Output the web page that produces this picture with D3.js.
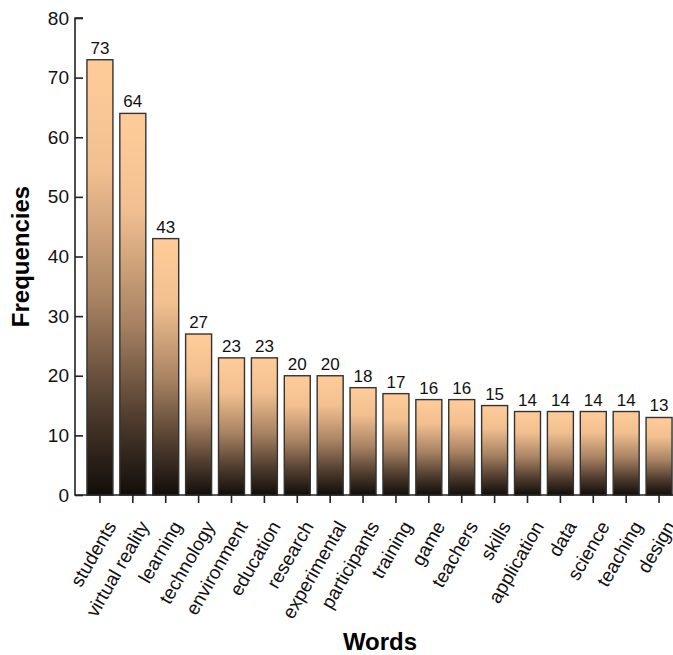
<!DOCTYPE html>
<html>
<head>
<meta charset="utf-8">
<script src="https://cdn.jsdelivr.net/npm/d3@7"></script>
<style>
  html, body { margin: 0; padding: 0; background: #fff; }
  svg { display: block; font-family: "Liberation Sans", Arial, sans-serif; }
</style>
</head>
<body>
<svg id="chart" width="673" height="655"></svg>
<script>
const words = ["students", "virtual reality", "learning", "technology", "environment", "education",
  "research", "experimental", "participants", "training", "game", "teachers", "skills",
  "application", "data", "science", "teaching", "design"];
const frequencies = [73, 64, 43, 27, 23, 23, 20, 20, 18, 17, 16, 16, 15, 14, 14, 14, 14, 13];
const yTicks = [0, 10, 20, 30, 40, 50, 60, 70, 80];

const svg = d3.select("#chart");
const x0 = 83, x1 = 676, yTop = 18, yBot = 495;

const defs = svg.append("defs");
const grad = defs.append("linearGradient")
  .attr("id", "barGrad").attr("x1", 0).attr("y1", 0).attr("x2", 0).attr("y2", 1);
grad.append("stop").attr("offset", "0%").attr("stop-color", "#FFCC99");
grad.append("stop").attr("offset", "25%").attr("stop-color", "#F2C090");
grad.append("stop").attr("offset", "55%").attr("stop-color", "#A88262");
grad.append("stop").attr("offset", "80%").attr("stop-color", "#4F3C2E");
grad.append("stop").attr("offset", "100%").attr("stop-color", "#120D09");

const x = d3.scaleBand().domain(words).range([x0, x1]).paddingInner(0.21).paddingOuter(0.12);
const y = d3.scaleLinear().domain([0, 80]).range([yBot, yTop]);

// bars
svg.append("g").selectAll("rect").data(words).join("rect")
  .attr("x", d => x(d))
  .attr("y", (d, i) => y(frequencies[i]))
  .attr("width", x.bandwidth())
  .attr("height", (d, i) => y(0) - y(frequencies[i]))
  .attr("fill", "url(#barGrad)")
  .attr("stroke", "#333")
  .attr("stroke-width", 1.4);

// value labels
svg.append("g").selectAll("text").data(words).join("text")
  .attr("x", d => x(d) + x.bandwidth() / 2)
  .attr("y", (d, i) => y(frequencies[i]) - 6)
  .attr("text-anchor", "middle")
  .attr("font-size", 17)
  .attr("fill", "#111")
  .text((d, i) => frequencies[i]);

// y axis
const yAxis = svg.append("g").attr("transform", `translate(${x0},0)`)
  .call(d3.axisLeft(y).tickValues(yTicks).tickSize(8).tickPadding(6));
yAxis.selectAll("text").attr("font-size", 19).attr("fill", "#111")
  .attr("font-family", "Liberation Sans, Arial, sans-serif");
yAxis.selectAll("line").attr("stroke", "#222").attr("stroke-width", 1.6);
yAxis.select(".domain").attr("stroke", "#222").attr("stroke-width", 1.6)
  .attr("d", `M0,${yTop}H-8V${yBot}H0`);

// x axis
const xAxis = svg.append("g").attr("transform", `translate(0,${yBot})`)
  .call(d3.axisBottom(x).tickSize(8).tickSizeOuter(0).tickPadding(10));
xAxis.select(".domain").attr("stroke", "#222").attr("stroke-width", 1.6)
  .attr("d", `M${x0},0H673`);
xAxis.selectAll("line").attr("stroke", "#222").attr("stroke-width", 1.6);
xAxis.selectAll("text")
  .attr("font-size", 19).attr("fill", "#111")
  .attr("font-family", "Liberation Sans, Arial, sans-serif")
  .attr("text-anchor", "end")
  .attr("dy", null)
  .attr("y", 0)
  .attr("transform", "translate(17,31) rotate(-60)");

// axis titles
svg.append("text")
  .attr("transform", `translate(29,${(yTop + yBot) / 2}) rotate(-90)`)
  .attr("text-anchor", "middle")
  .attr("font-size", 24).attr("font-weight", "bold").attr("fill", "#000")
  .text("Frequencies");

svg.append("text")
  .attr("x", 380).attr("y", 650)
  .attr("text-anchor", "middle")
  .attr("font-size", 24).attr("font-weight", "bold").attr("fill", "#000")
  .text("Words");
</script>
</body>
</html>
